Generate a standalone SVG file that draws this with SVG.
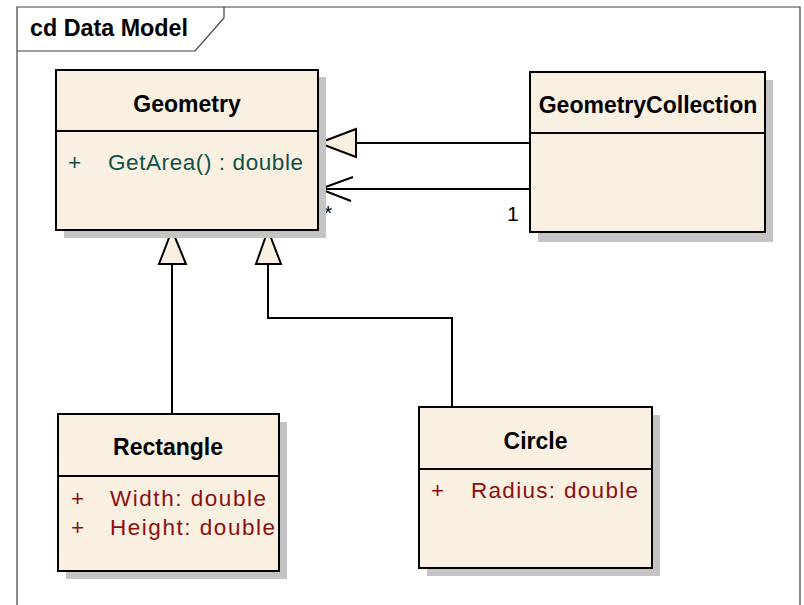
<svg xmlns="http://www.w3.org/2000/svg" width="804" height="605" viewBox="0 0 804 605">
<style>
  .frame { fill: none; stroke: #404040; stroke-width: 1.2; }
  .shadow { fill: #c4c4c4; }
  .box { fill: #FAF0E2; stroke: #000; stroke-width: 2; }
  .div { stroke: #000; stroke-width: 2; }
  .title { font-family: "Liberation Sans", Arial, sans-serif; font-weight: bold; font-size: 23px; fill: #000; }
  .op { font-family: "Liberation Sans", Arial, sans-serif; font-size: 22.5px; fill: #0f5048; }
  .attr { font-family: "Liberation Sans", Arial, sans-serif; font-size: 22.5px; fill: #8c0f0f; }
  .conn { fill: none; stroke: #000; stroke-width: 2; }
  .gen { fill: #FAF0E2; stroke: #000; stroke-width: 2; stroke-linejoin: miter; }
  .lbl { font-family: "Liberation Sans", Arial, sans-serif; font-size: 21px; fill: #000; }
</style>
<rect width="804" height="605" fill="#fff"/>
<g id="frame">
  <polyline class="frame" points="17,612 17,7 800,7 800,612"/>
  <polyline class="frame" points="17,51 195,51 224,18 224,7"/>
  <text class="title" x="30" y="36" textLength="158" lengthAdjust="spacingAndGlyphs">cd Data Model</text>
</g>
<g id="connectors">
  <line class="conn" x1="530" y1="143" x2="356" y2="143"/>
  <polygon class="gen" points="319,143 356,129 356,157"/>
  <line class="conn" x1="530" y1="189" x2="320" y2="189"/>
  <polyline class="conn" points="353,177 320,189 351,201"/>
  <text class="lbl" x="324" y="220">*</text>
  <text class="lbl" x="507" y="221">1</text>
  <line class="conn" x1="172" y1="414" x2="172" y2="264"/>
  <polygon class="gen" points="172,230 159,264 186,264"/>
  <polyline class="conn" points="452,407 452,318 268,318 268,264"/>
  <polygon class="gen" points="268,230 256,264 281,264"/>
</g>
<g id="Geometry">
  <rect class="shadow" x="64" y="77" width="262" height="161"/>
  <rect class="box" x="56" y="70" width="262" height="160"/>
  <line class="div" x1="56" y1="131" x2="318" y2="131"/>
  <text class="title" x="187" y="112" text-anchor="middle">Geometry</text>
  <text class="op" x="68" y="170">+</text>
  <text class="op" x="108" y="170" textLength="195" lengthAdjust="spacing">GetArea() : double</text>
</g>
<g id="GeometryCollection">
  <rect class="shadow" x="538" y="80" width="235" height="162"/>
  <rect class="box" x="530" y="72" width="235" height="160"/>
  <line class="div" x1="530" y1="133" x2="765" y2="133"/>
  <text class="title" x="648" y="113" text-anchor="middle">GeometryCollection</text>
</g>
<g id="Rectangle">
  <rect class="shadow" x="66" y="422" width="221" height="157"/>
  <rect class="box" x="58" y="414" width="221" height="157"/>
  <line class="div" x1="58" y1="476" x2="279" y2="476"/>
  <text class="title" x="168" y="455" text-anchor="middle">Rectangle</text>
  <text class="attr" x="71" y="506">+</text>
  <text class="attr" x="110" y="506" textLength="156" lengthAdjust="spacing">Width:  double</text>
  <text class="attr" x="71" y="535">+</text>
  <text class="attr" x="110" y="535" textLength="165" lengthAdjust="spacing">Height:  double</text>
</g>
<g id="Circle">
  <rect class="shadow" x="427" y="415" width="233" height="161"/>
  <rect class="box" x="419" y="407" width="233" height="161"/>
  <line class="div" x1="419" y1="469" x2="652" y2="469"/>
  <text class="title" x="535.5" y="449" text-anchor="middle">Circle</text>
  <text class="attr" x="431" y="498">+</text>
  <text class="attr" x="471" y="498" textLength="167" lengthAdjust="spacing">Radius:  double</text>
</g>
</svg>
